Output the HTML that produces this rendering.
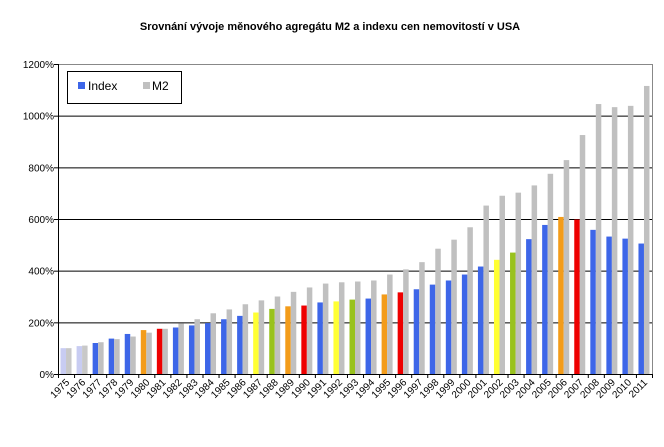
<!DOCTYPE html>
<html><head><meta charset="utf-8"><style>
body{margin:0;background:#fff;width:664px;height:442px;overflow:hidden;font-family:"Liberation Sans",sans-serif}
</style></head><body>
<svg id="chart" width="664" height="442" xmlns="http://www.w3.org/2000/svg" font-family="Liberation Sans, sans-serif">
<text x="330" y="30" text-anchor="middle" font-size="11" font-weight="bold">Srovnání vývoje měnového agregátu M2 a indexu cen nemovitostí v USA</text>
<g id="grid"></g><g id="bars"></g><g id="axes"></g>
<g>
<rect x="67.5" y="71.5" width="114" height="32" fill="#fff" stroke="#000"/>
<rect x="78" y="82" width="7" height="7" fill="#3d66e8"/>
<text x="88" y="90" font-size="12">Index</text>
<rect x="143" y="82" width="7" height="7" fill="#c0c0c0"/>
<text x="152" y="90" font-size="12">M2</text>
</g>
</svg>
<script>
const years=[1975,1976,1977,1978,1979,1980,1981,1982,1983,1984,1985,1986,1987,1988,1989,1990,1991,1992,1993,1994,1995,1996,1997,1998,1999,2000,2001,2002,2003,2004,2005,2006,2007,2008,2009,2010,2011];
const indexValues=[100,108,120,137,155,170,175,180,188,197,212,225,238,252,262,265,277,281,288,292,308,316,328,346,362,385,416,442,470,522,577,608,598,558,532,524,505];
const m2Values=[100,110,123,135,145,160,175,195,212,235,250,270,285,300,318,335,350,355,358,362,385,405,433,485,520,568,652,690,702,730,775,828,925,1045,1033,1038,1115];
const indexColors=["l","l","b","b","b","o","r","b","b","b","b","b","y","g","o","r","b","y","g","b","o","r","b","b","b","b","b","y","g","b","b","o","r","b","b","b","b"];
const yTicks=[0,200,400,600,800,1000,1200];
const pal={l:"#c8ccf2",b:"#3d66e8",o:"#f39c1a",r:"#ee0000",y:"#ffff33",g:"#99c21d"};
const X0=58,X1=652,Y0=374,Y1=64,MAX=1200;
const ns="http://www.w3.org/2000/svg";
const y=v=>Y0-(v/MAX)*(Y0-Y1);
const bw=(X1-X0)/years.length;
const x=i=>X0+i*bw;
function mk(t,a,p){const e=document.createElementNS(ns,t);for(const k in a)e.setAttribute(k,a[k]);p.appendChild(e);return e;}
const grid=document.getElementById('grid'),bars=document.getElementById('bars'),axes=document.getElementById('axes');
yTicks.forEach(v=>{
 const l=mk('line',{x1:X0,x2:X1,y1:y(v)+.5,y2:y(v)+.5,stroke:v==MAX?'#888':'#000','stroke-width':1},grid);
 
 
 const t=mk('text',{x:X0-4,y:y(v)+4,'text-anchor':'end','font-size':10},axes);t.textContent=v+'%';
 
 
 mk('line',{x1:X0-4,x2:X0,y1:y(v)+.5,y2:y(v)+.5,stroke:'#000'},axes);
});
mk('line',{x1:X1+.5,x2:X1+.5,y1:Y1,y2:Y0,stroke:'#888'},grid);
years.forEach((yr,i)=>{
 const cx=x(i)+bw/2;
 const a=mk('rect',{x:cx-5.5,y:y(indexValues[i]),width:5.5,height:Y0-y(indexValues[i]),fill:pal[indexColors[i]]},bars);
 
 
 const b=mk('rect',{x:cx,y:y(m2Values[i]),width:5.5,height:Y0-y(m2Values[i]),fill:i<2?'#c8c8c8':'#c0c0c0'},bars);
 
 
 mk('line',{x1:x(i)+.5,x2:x(i)+.5,y1:Y0,y2:Y0+4,stroke:'#000'},axes);
 const t=mk('text',{x:0,y:0,'text-anchor':'end','font-size':10,transform:`translate(${cx+4},${Y0+9}) rotate(-45)`},axes);
 t.textContent=yr;
 
 
});
mk('line',{x1:X1+.5,x2:X1+.5,y1:Y0,y2:Y0+4,stroke:'#000'},axes);
mk('line',{x1:X0+.5,x2:X0+.5,y1:Y1,y2:Y0,stroke:'#000'},axes);
mk('line',{x1:X0,x2:X1,y1:Y0+.5,y2:Y0+.5,stroke:'#000'},axes);
</script>
</body></html>
